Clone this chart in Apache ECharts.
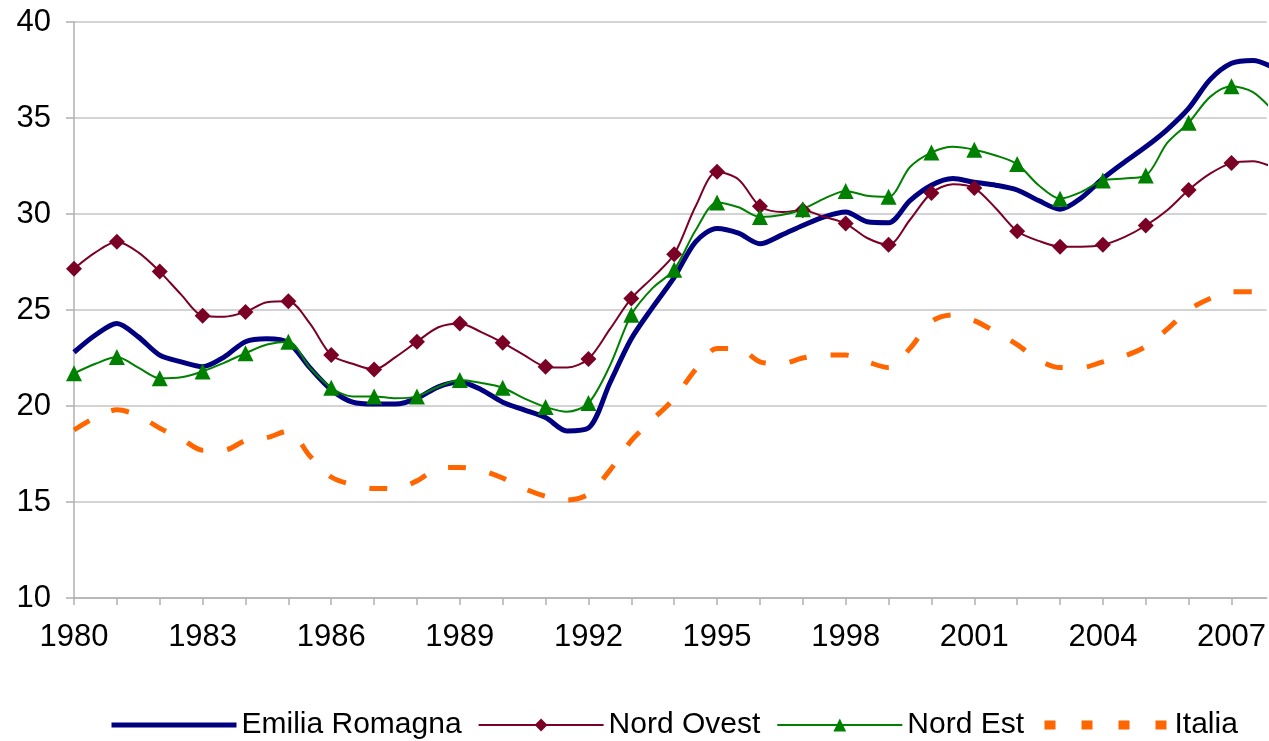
<!DOCTYPE html>
<html>
<head>
<meta charset="utf-8">
<script src="https://cdn.jsdelivr.net/npm/echarts@6/dist/echarts.min.js"></script>
<style>
html,body{margin:0;padding:0;background:#fff;}
#chart{width:1269px;height:741px;}
</style>
</head>
<body>
<div id="chart"></div>
<script>
// half-year steps, 1980 .. 2008
var periods = [];
for (var p = 1980; p <= 2008; p += 0.5) periods.push(p);

var emilia = [22.8, 23.7, 24.3, 23.6, 22.65, 22.3, 22.05, 22.55, 23.35, 23.5,
    23.3, 22.0, 20.85, 20.2, 20.1, 20.1, 20.4, 21.0, 21.25, 20.85,
    20.2, 19.8, 19.4, 18.7, 18.85, 21.2, 23.5, 25.15, 26.7, 28.55,
    29.25, 29.0, 28.45, 28.9, 29.4, 29.85, 30.1, 29.6, 29.55, 30.7,
    31.5, 31.85, 31.65, 31.5, 31.25, 30.7, 30.25, 30.85, 31.85, 32.7,
    33.5, 34.4, 35.5, 37.0, 37.85, 38.0, 37.6];

var nordOvest = [27.15, 28.0, 28.55, 28.0, 27.0, 25.8, 24.7, 24.65, 24.9, 25.4,
    25.45, 24.3, 22.65, 22.2, 21.9, 22.55, 23.35, 24.1, 24.3, 23.85,
    23.3, 22.65, 22.05, 22.0, 22.45, 24.0, 25.6, 26.7, 27.9, 30.4,
    32.2, 31.8, 30.4, 30.1, 30.2, 29.85, 29.5, 28.75, 28.4, 29.7,
    31.1, 31.55, 31.35, 30.3, 29.1, 28.6, 28.3, 28.3, 28.4, 28.8,
    29.4, 30.2, 31.25, 32.1, 32.65, 32.75, 32.4];

var nordEst = [21.7, 22.2, 22.55, 22.0, 21.45, 21.5, 21.8, 22.25, 22.75, 23.2,
    23.35, 22.0, 20.95, 20.5, 20.5, 20.4, 20.5, 21.0, 21.35, 21.2,
    20.95, 20.4, 19.95, 19.7, 20.15, 22.1, 24.75, 26.15, 27.1, 29.15,
    30.6, 30.35, 29.85, 29.95, 30.25, 30.8, 31.2, 30.95, 30.9, 32.45,
    33.2, 33.5, 33.35, 33.05, 32.6, 31.5, 30.8, 31.15, 31.75, 31.85,
    32.0, 33.7, 34.75, 36.1, 36.65, 36.35, 35.3];

var italia = [18.75, 19.4, 19.8, 19.5, 18.85, 18.3, 17.7, 17.7, 18.2, 18.35,
    18.7, 17.4, 16.3, 15.9, 15.7, 15.7, 16.1, 16.75, 16.8, 16.65,
    16.25, 15.7, 15.3, 15.1, 15.4, 16.65, 18.2, 19.3, 20.4, 21.9,
    23.0, 23.0, 22.3, 22.2, 22.5, 22.65, 22.65, 22.3, 22.0, 23.0,
    24.4, 24.75, 24.45, 23.85, 23.2, 22.4, 22.0, 22.0, 22.3, 22.6,
    23.1, 24.0, 25.0, 25.6, 25.95, 25.95, 25.3];

var fontName = "Liberation Sans, Arial, sans-serif";

// markers only on whole years (and not on the clipped 2008 point)
function toPoints(values) {
    return values.map(function (v, i) {
        var x = periods[i];
        var item = { value: [x, v] };
        if (x % 1 !== 0 || x >= 2008) item.symbol = 'none';
        return item;
    });
}

function makeSeries(name, values, color, width, symbol, size, dash) {
    return {
        name: name,
        type: 'line',
        data: toPoints(values),
        smooth: 0.3,
        symbol: symbol,
        symbolSize: size,
        showSymbol: symbol !== 'none',
        itemStyle: { color: color },
        lineStyle: { color: color, width: width, type: dash || 'solid' },
        emphasis: { disabled: true },
        animation: false
    };
}

var chart = echarts.init(document.getElementById('chart'));
chart.setOption({
    backgroundColor: '#fff',
    textStyle: { fontFamily: fontName },
    grid: { left: 74, right: 0, top: 22, bottom: 143 },
    legend: {
        left: 104,
        top: 705,
        itemWidth: 125,
        itemHeight: 16,
        itemGap: 16,
        textStyle: { fontSize: 30, color: '#000', fontFamily: fontName },
        data: [
            { name: 'Emilia Romagna', lineStyle: { width: 5 }, itemStyle: { opacity: 0 } },
            { name: 'Nord Ovest', lineStyle: { width: 2 } },
            { name: 'Nord Est', lineStyle: { width: 2 } },
            { name: 'Italia', lineStyle: { width: 9, type: [11, 26] }, itemStyle: { opacity: 0 } }
        ]
    },
    xAxis: {
        type: 'value',
        min: 1980,
        max: 2007.82,
        interval: 1,
        axisLine: { show: true, lineStyle: { color: '#b0b0b0', width: 1.5 } },
        axisTick: { show: true, length: 7, lineStyle: { color: '#b0b0b0', width: 1.5 } },
        splitLine: { show: false },
        axisLabel: {
            fontSize: 31,
            color: '#000',
            margin: 24,
            showMaxLabel: false,
            formatter: function (v) {
                return (v % 3 === 0) ? String(v) : '';
            }
        }
    },
    yAxis: {
        type: 'value',
        min: 10,
        max: 40,
        interval: 5,
        axisLine: { show: true, lineStyle: { color: '#b0b0b0', width: 1.5 } },
        axisTick: { show: true, length: 8, lineStyle: { color: '#b0b0b0', width: 1.5 } },
        splitLine: { show: true, lineStyle: { color: '#c4c4c4', width: 1.5 } },
        axisLabel: { fontSize: 31, color: '#000', margin: 23 }
    },
    series: [
        makeSeries('Emilia Romagna', emilia, '#000080', 5, 'none', 0),
        makeSeries('Nord Ovest', nordOvest, '#7a0026', 2, 'diamond', 16),
        makeSeries('Nord Est', nordEst, '#008000', 2, 'triangle', 16),
        makeSeries('Italia', italia, '#ff6600', 5, 'none', 0, [18, 24])
    ]
});
</script>
</body>
</html>
